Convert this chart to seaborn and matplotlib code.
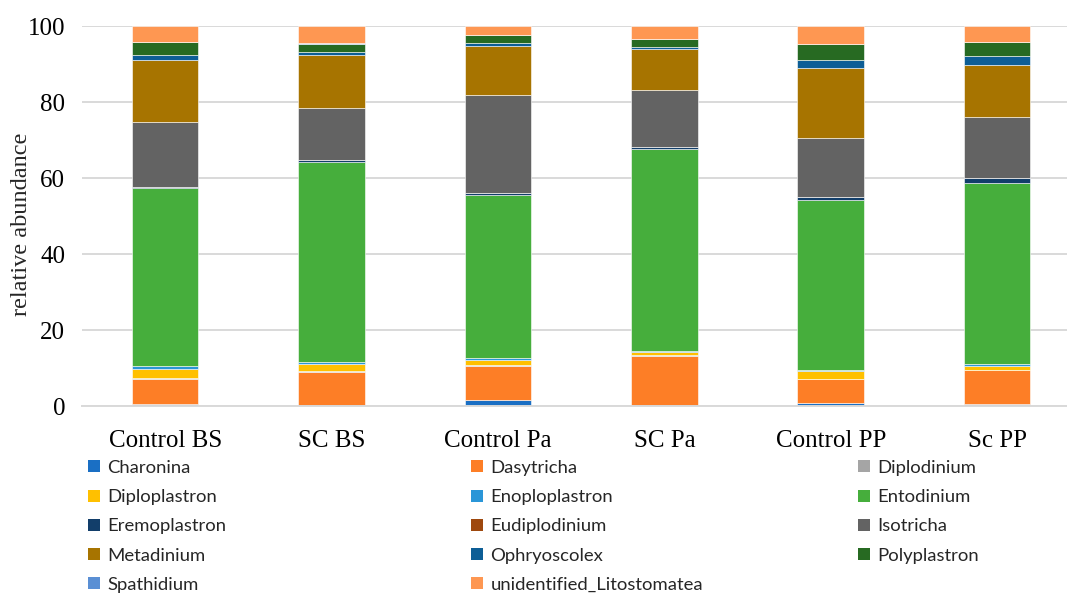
import numpy as np
import pandas as pd
import matplotlib
matplotlib.use("Agg")
import matplotlib.pyplot as plt
import seaborn as sns
from matplotlib.patches import Patch

### Data
groups = ["Control BS", "SC BS", "Control Pa", "SC Pa", "Control PP", "Sc PP"]

taxa = ["Charonina", "Dasytricha", "Diplodinium", "Diploplastron", "Enoploplastron",
        "Entodinium", "Eremoplastron", "Eudiplodinium", "Isotricha", "Metadinium",
        "Ophryoscolex", "Polyplastron", "Spathidium", "unidentified_Litostomatea"]

charonina      = [0.5, 0.2, 1.7, 0.1, 0.9, 0.7]
dasytricha     = [6.8, 8.8, 9.0, 13.2, 6.2, 8.8]
diplodinium    = [0.2, 0.2, 0.1, 0.1, 0.1, 0.1]
diploplastron  = [2.3, 1.8, 1.5, 0.8, 2.0, 1.1]
enoploplastron = [0.7, 0.6, 0.4, 0.3, 0.4, 0.5]
entodinium     = [46.8, 52.6, 42.8, 53.1, 44.6, 47.6]
eremoplastron  = [0.4, 0.6, 0.6, 0.6, 0.8, 1.2]
eudiplodinium  = [0.1, 0.1, 0.1, 0.1, 0.1, 0.1]
isotricha      = [16.9, 13.6, 25.8, 15.0, 15.4, 15.9]
metadinium     = [16.4, 13.8, 12.8, 10.6, 18.4, 13.8]
ophryoscolex   = [1.3, 0.9, 0.8, 0.7, 2.2, 2.4]
polyplastron   = [3.4, 2.1, 2.0, 2.0, 4.2, 3.5]
spathidium     = [0.1, 0.3, 0.1, 0.1, 0.1, 0.1]
litostomatea   = [4.1, 4.4, 2.3, 3.3, 4.6, 4.2]

values = [charonina, dasytricha, diplodinium, diploplastron, enoploplastron,
          entodinium, eremoplastron, eudiplodinium, isotricha, metadinium,
          ophryoscolex, polyplastron, spathidium, litostomatea]

colors = ["#1a6fc4", "#fd7e26", "#a5a5a5", "#ffc000", "#2a96d8", "#46ae3c",
          "#123e6a", "#9e480e", "#636363", "#a77400", "#0d5e96", "#276a22",
          "#5a8fd4", "#fe9752"]

### Long table
rows = []
for t, v in zip(taxa, values):
    for g, val in zip(groups, v):
        rows.append({"group": g, "taxon": t, "value": val})
df = pd.DataFrame(rows)

sns.set_theme(style="white")
plt.rcParams["font.family"] = ["Liberation Serif", "DejaVu Serif"]

fig = plt.figure(figsize=(10.67, 5.94), dpi=100)
ax = fig.add_axes([0.0768, 0.316, 0.9232, 0.64])

bottom = np.zeros(len(groups))
for t, c in zip(taxa, colors):
    sub = df[df["taxon"] == t].set_index("group").loc[groups].reset_index()
    sns.barplot(data=sub, x="group", y="value", order=groups, color=c,
                width=0.4, bottom=bottom, edgecolor="white", linewidth=0.4,
                saturation=1, ax=ax)
    bottom = bottom + sub["value"].to_numpy()

ax.set_ylim(0, 100)
ax.set_xlim(-0.5, 5.42)
ax.set_yticks([0, 20, 40, 60, 80, 100])
ax.yaxis.grid(True, color="#d9d9d9", linewidth=1.4)
ax.set_axisbelow(True)
for s in ["top", "right", "left"]:
    ax.spines[s].set_visible(False)
ax.spines["bottom"].set_color("#d9d9d9")
ax.spines["bottom"].set_linewidth(1.4)
ax.tick_params(axis="both", length=0, labelsize=18, colors="black")
ax.tick_params(axis="x", pad=17)
ax.tick_params(axis="y", pad=12)
ax.set_xlabel("")
ax.set_ylabel("relative abundance", fontsize=17.5)
ax.yaxis.set_label_coords(-0.051, 0.48)

### Legend, three columns laid out row-wise
handles = [Patch(facecolor=c, edgecolor="none") for c in colors]
col_x = [0.067, 0.426, 0.789]
for ci in range(3):
    idx = list(range(ci, len(taxa), 3))
    fig.legend([handles[i] for i in idx], [taxa[i] for i in idx],
               loc="upper left", bbox_to_anchor=(col_x[ci], 0.254),
               frameon=False, ncol=1, handlelength=0.62, handleheight=0.62,
               handletextpad=0.42, labelspacing=0.72,
               prop={"family": "Lato", "size": 13.3})

plt.savefig("out.png", dpi=100)
